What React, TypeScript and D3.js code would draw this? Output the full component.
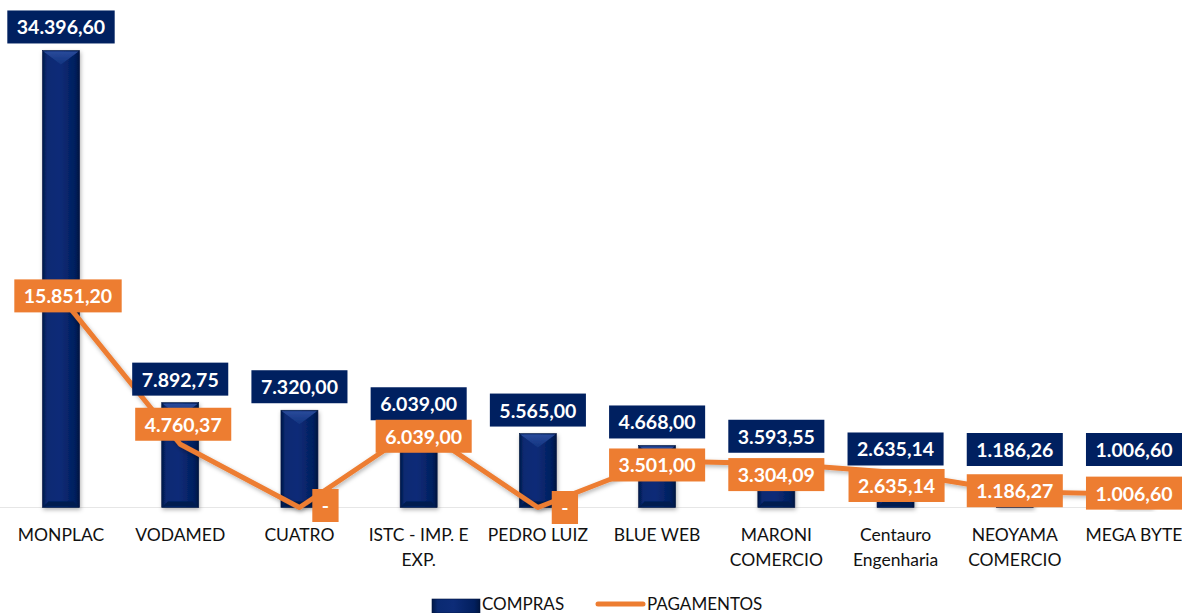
import React, { useEffect, useRef } from 'react';
import * as d3 from 'd3';

const categories = ['MONPLAC', 'VODAMED', 'CUATRO', 'ISTC - IMP. E EXP.', 'PEDRO LUIZ', 'BLUE WEB', 'MARONI COMERCIO', 'Centauro Engenharia', 'NEOYAMA COMERCIO', 'MEGA BYTE'];
const compras = [34396.6, 7892.75, 7320.0, 6039.0, 5565.0, 4668.0, 3593.55, 2635.14, 1186.26, 1006.6];
const pagamentos = [15851.2, 4760.37, 0, 6039.0, 0, 3501.0, 3304.09, 2635.14, 1186.27, 1006.6];

// manual nudges of the orange labels relative to their point (as in the original)
const labelNudge: [number, number][] = [[7, -1], [3, -20], [26, -2], [5, 9], [27, 0], [0, 4], [0, 11], [1, 13], [0, -1], [0, -1]];

const NAVY = '#002060';
const ORANGE = '#ED7D31';
const FONT = 'Lato, "Open Sans", sans-serif';

const fmt = (v: number) => {
  if (v === 0) return '-';
  const [i, d] = v.toFixed(2).split('.');
  return i.replace(/\B(?=(\d{3})+(?!\d))/g, '.') + ',' + d;
};

const App: React.FC = () => {
  const svgRef = useRef<SVGSVGElement>(null);

  useEffect(() => {
    if (!svgRef.current) return;
    const svg = d3.select(svgRef.current);
    svg.selectAll('*').remove();

    const width = 1182;
    const height = 613;
    const baseY = 507.5;

    const x = d3.scalePoint<string>().domain(categories).range([61, 1134]);
    const y = d3.scaleLinear().domain([0, 35000]).range([baseY, baseY - 35000 * 0.013287]);
    const barW = 37;

    const defs = svg.append('defs');
    const grad = defs.append('linearGradient').attr('id', 'barGrad').attr('x1', 0).attr('x2', 1).attr('y1', 0).attr('y2', 0);
    grad.append('stop').attr('offset', '0%').attr('stop-color', '#001848');
    grad.append('stop').attr('offset', '12%').attr('stop-color', '#0a2a72');
    grad.append('stop').attr('offset', '45%').attr('stop-color', '#0d2c78');
    grad.append('stop').attr('offset', '88%').attr('stop-color', '#021f5e');
    grad.append('stop').attr('offset', '100%').attr('stop-color', '#00153f');
    const bevel = defs.append('linearGradient').attr('id', 'bevelGrad').attr('x1', 0).attr('x2', 0).attr('y1', 0).attr('y2', 1);
    bevel.append('stop').attr('offset', '0%').attr('stop-color', '#2a4a9a');
    bevel.append('stop').attr('offset', '100%').attr('stop-color', '#123480');
    const shadow = defs.append('filter').attr('id', 'shadow').attr('x', '-30%').attr('y', '-30%').attr('width', '160%').attr('height', '160%');
    shadow.append('feDropShadow').attr('dx', 1).attr('dy', 2).attr('stdDeviation', 2).attr('flood-color', '#000').attr('flood-opacity', 0.3);

    // baseline
    svg.append('line')
      .attr('x1', 0).attr('x2', width)
      .attr('y1', baseY).attr('y2', baseY)
      .attr('stroke', '#e6e6e6').attr('stroke-width', 1);

    // bars
    const bars = svg.append('g');
    categories.forEach((c, i) => {
      const cx = x(c)!;
      const top = y(compras[i]);
      const g = bars.append('g').attr('filter', 'url(#shadow)');
      g.append('rect')
        .attr('x', cx - barW / 2).attr('y', top)
        .attr('width', barW).attr('height', baseY - top)
        .attr('fill', 'url(#barGrad)')
        .attr('stroke', '#001540').attr('stroke-width', 0.6);
      const b = Math.min(14, (baseY - top) / 2);
      g.append('path')
        .attr('d', `M${cx - barW / 2 + 1},${top + 1} L${cx + barW / 2 - 1},${top + 1} L${cx},${top + b} Z`)
        .attr('fill', 'url(#bevelGrad)');
      g.append('path')
        .attr('d', `M${cx - barW / 2 + 1},${baseY - 1} L${cx + barW / 2 - 1},${baseY - 1} L${cx + barW / 2 - 6},${baseY - 6} L${cx - barW / 2 + 6},${baseY - 6} Z`)
        .attr('fill', '#001a50');
    });

    // line
    const pts: [number, number][] = categories.map((c, i) => [x(c)!, y(pagamentos[i])]);
    svg.append('path')
      .datum(pts)
      .attr('fill', 'none')
      .attr('stroke', ORANGE)
      .attr('stroke-width', 5)
      .attr('stroke-linejoin', 'round')
      .attr('filter', 'url(#shadow)')
      .attr('d', d3.line());

    const drawLabel = (cx: number, cy: number, text: string, fill: string) => {
      const g = svg.append('g');
      const t = g.append('text')
        .attr('x', cx).attr('y', cy)
        .attr('text-anchor', 'middle')
        .attr('dominant-baseline', 'central')
        .attr('fill', '#fff')
        .style('font-family', FONT)
        .style('font-size', '19.5px')
        .style('font-weight', 700)
        .text(text);
      const w = (t.node() as SVGTextElement).getComputedTextLength() + 19;
      g.insert('rect', 'text')
        .attr('x', cx - w / 2).attr('y', cy - 16.5)
        .attr('width', w).attr('height', 33)
        .attr('fill', fill);
    };

    // bar labels (navy)
    categories.forEach((c, i) => {
      const bottom = Math.min(y(compras[i]) - 7, 466);
      drawLabel(x(c)!, bottom - 16.5, fmt(compras[i]), NAVY);
    });

    // line labels (orange)
    categories.forEach((c, i) => {
      const [dx, dy] = labelNudge[i];
      drawLabel(x(c)! + dx, y(pagamentos[i]) + dy, fmt(pagamentos[i]), ORANGE);
    });

    // category labels with wrapping
    const axisG = svg.append('g');
    categories.forEach((c) => {
      const t = axisG.append('text')
        .attr('x', x(c)!).attr('y', 541)
        .attr('text-anchor', 'middle')
        .attr('fill', '#111')
        .style('font-family', FONT)
        .style('font-size', '17.5px');
      const words = c.split(' ');
      let line: string[] = [];
      let tspan = t.append('tspan').attr('x', x(c)!).attr('dy', 0);
      words.forEach((w) => {
        line.push(w);
        tspan.text(line.join(' '));
        if ((tspan.node() as SVGTSpanElement).getComputedTextLength() > 114 && line.length > 1) {
          line.pop();
          tspan.text(line.join(' '));
          line = [w];
          tspan = t.append('tspan').attr('x', x(c)!).attr('dy', 25).text(w);
        }
      });
    });

    // legend
    const lg = svg.append('g');
    lg.append('rect').attr('x', 432).attr('y', 599).attr('width', 48).attr('height', 14)
      .attr('fill', 'url(#barGrad)').attr('stroke', '#001540').attr('stroke-width', 0.6);
    lg.append('text').attr('x', 482).attr('y', 610)
      .attr('fill', '#111').style('font-family', FONT).style('font-size', '17px').text('COMPRAS');
    lg.append('line').attr('x1', 598).attr('x2', 643).attr('y1', 604).attr('y2', 604)
      .attr('stroke', ORANGE).attr('stroke-width', 5).attr('stroke-linecap', 'round');
    lg.append('text').attr('x', 647).attr('y', 610)
      .attr('fill', '#111').style('font-family', FONT).style('font-size', '17px').text('PAGAMENTOS');

    svg.attr('width', width).attr('height', height);
  }, []);

  return (
    <svg ref={svgRef} width={1182} height={613} style={{ position: 'absolute', left: 0, top: 0, background: '#fff' }} />
  );
};

export default App;
